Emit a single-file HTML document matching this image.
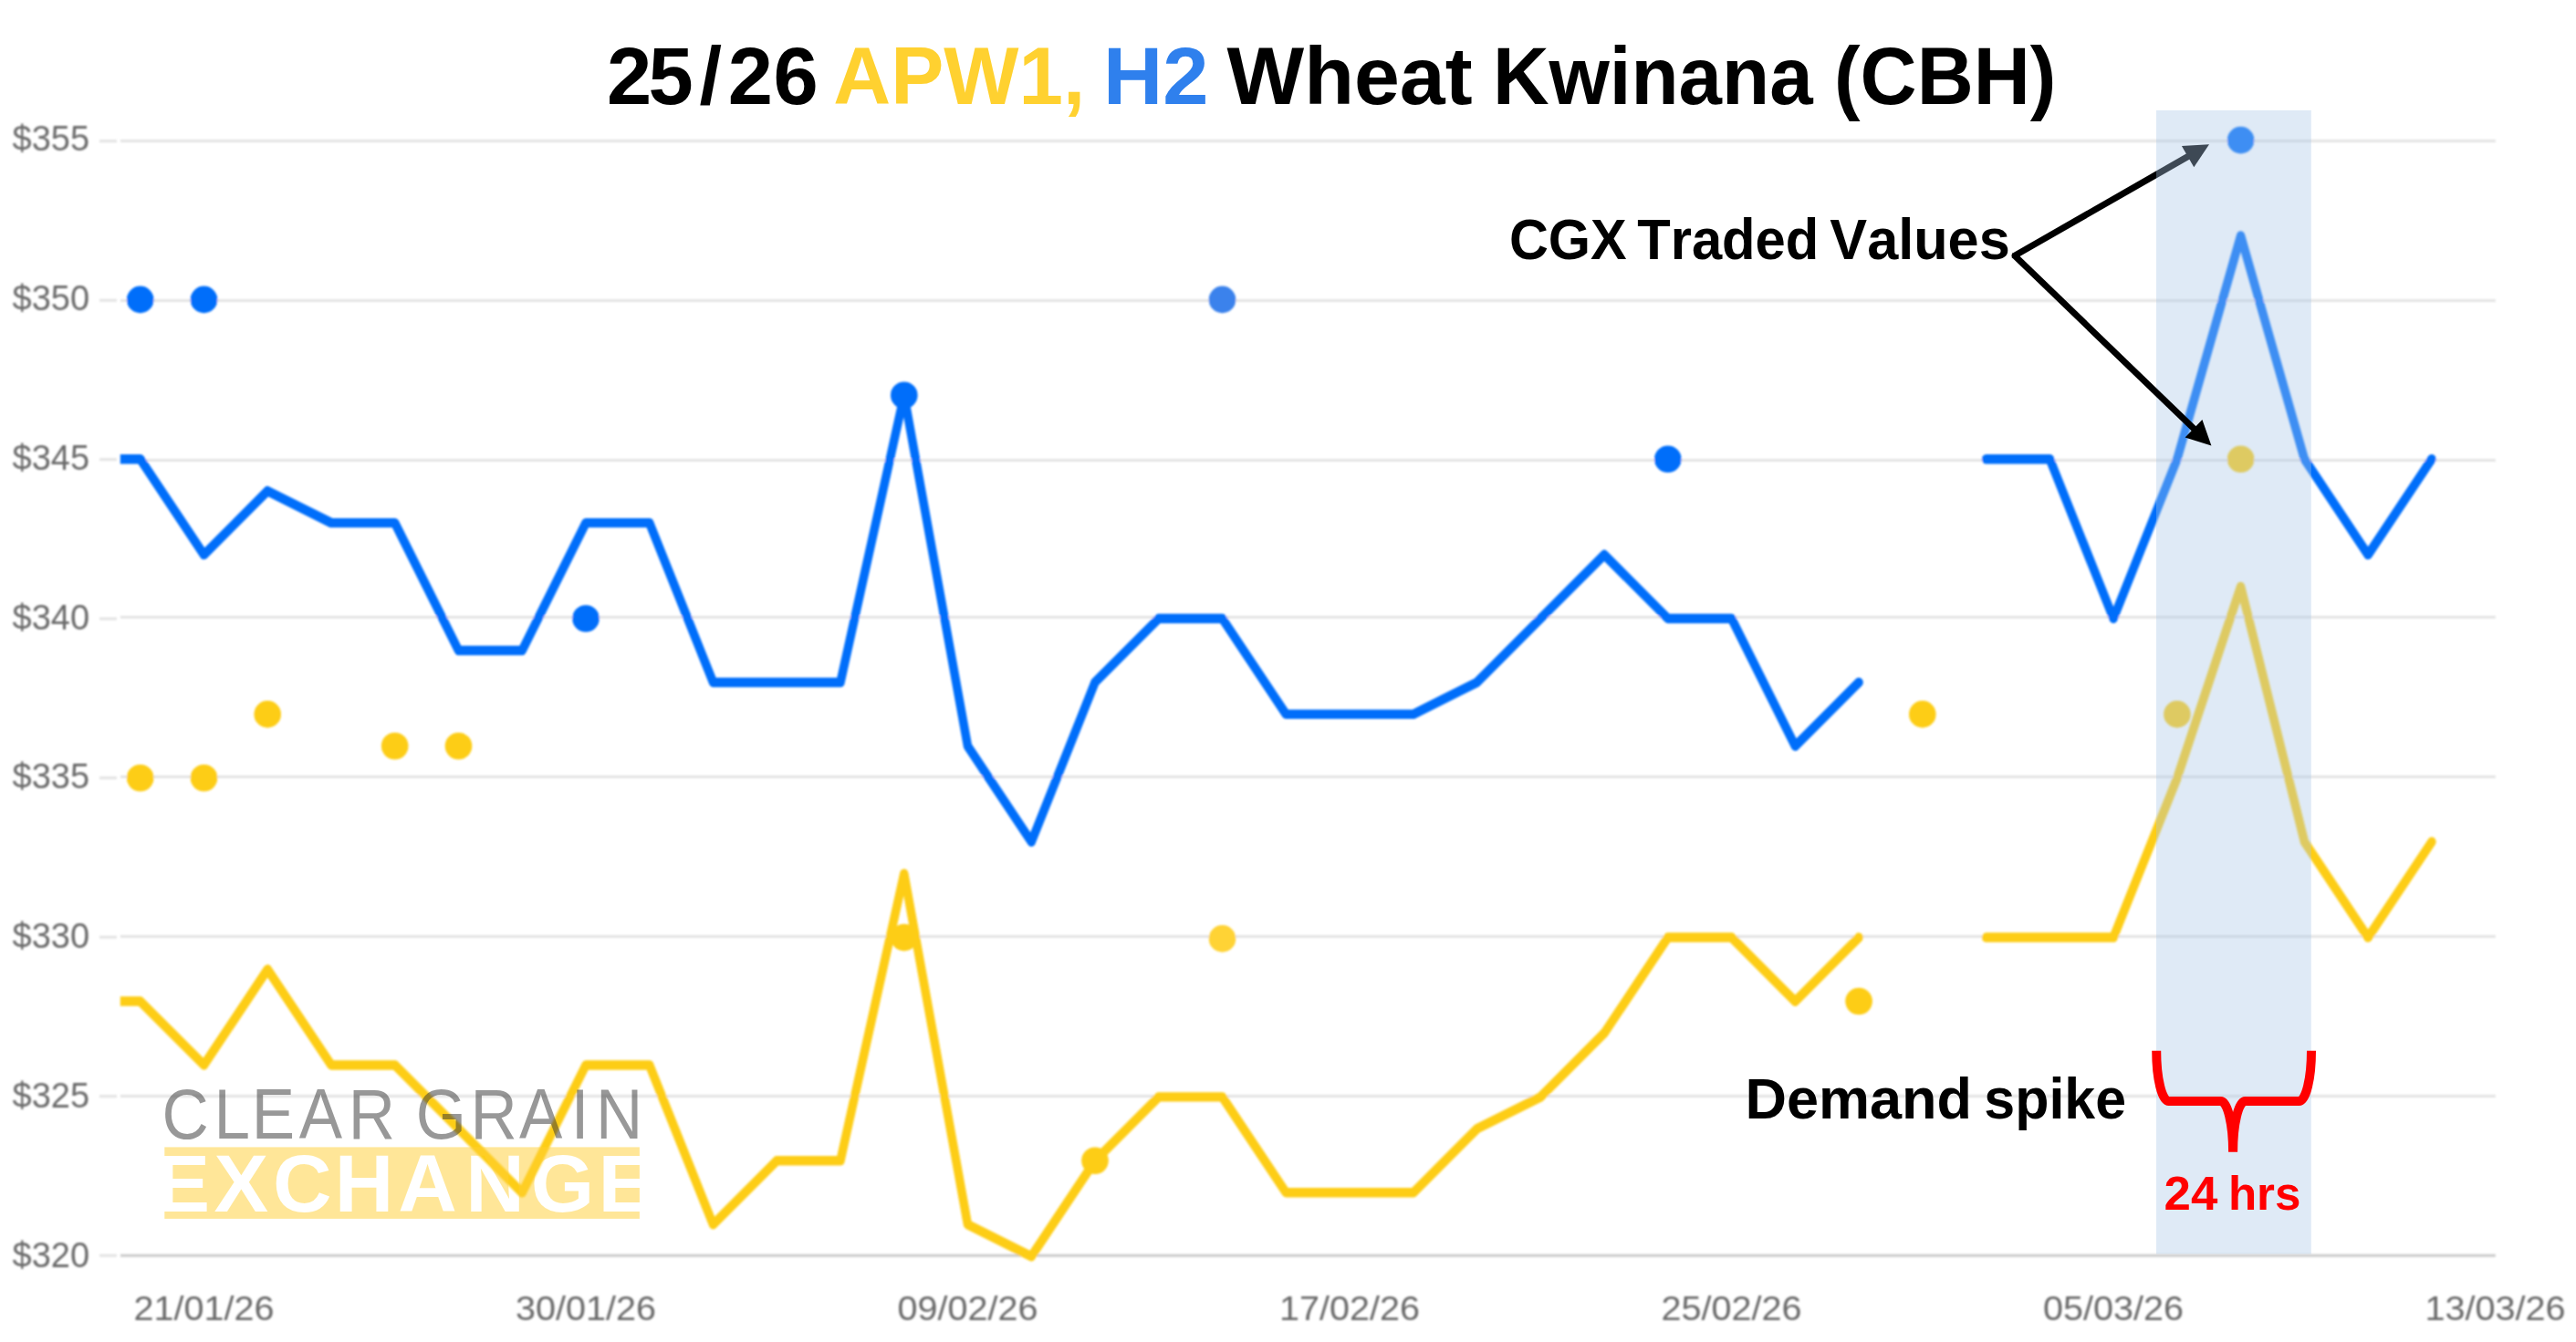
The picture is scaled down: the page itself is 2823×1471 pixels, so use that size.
<!DOCTYPE html>
<html lang="en"><head><meta charset="utf-8"><title>25/26 APW1, H2 Wheat Kwinana (CBH)</title>
<style>html,body{margin:0;padding:0;background:#fff;overflow:hidden}svg{display:block}text{font-family:"Liberation Sans",Arial,Helvetica,sans-serif;font-kerning:none}.ax{font-size:38.7px;fill:#6a6a6a}.xl{font-size:37.8px}.b{font-weight:700}</style></head><body>
<svg width="2823" height="1471" viewBox="0 0 2823 1471">
<rect width="2823" height="1471" fill="#fff"/>
<defs><filter id="soft" x="-2%" y="-2%" width="104%" height="104%"><feGaussianBlur stdDeviation="0.9"/></filter><clipPath id="plot"><rect x="131.8" y="0" width="2700" height="1471"/></clipPath>
<mask id="ko" maskUnits="userSpaceOnUse" x="170" y="1250" width="540" height="95"><rect x="170" y="1250" width="540" height="95" fill="#fff"/><text class="b" x="170.4 234.4 298.9 366.7 436.3 510.2 581.8 655.4" y="1327.6" font-size="89.4" fill="#000">EXCHANGE</text></mask></defs>
<g filter="url(#soft)">
<g stroke="#e3e3e3" stroke-width="3">
<line x1="109" y1="154.7" x2="128" y2="154.7"/>
<line x1="132" y1="154.6" x2="2734.8" y2="154.6"/>
<line x1="109" y1="329.2" x2="128" y2="329.2"/>
<line x1="132" y1="329.5" x2="2734.8" y2="329.5"/>
<line x1="109" y1="503.7" x2="128" y2="503.7"/>
<line x1="132" y1="504.4" x2="2734.8" y2="504.4"/>
<line x1="109" y1="678.2" x2="128" y2="678.2"/>
<line x1="132" y1="676.5" x2="2734.8" y2="676.5"/>
<line x1="109" y1="852.7" x2="128" y2="852.7"/>
<line x1="132" y1="851.5" x2="2734.8" y2="851.5"/>
<line x1="109" y1="1027.2" x2="128" y2="1027.2"/>
<line x1="132" y1="1026.5" x2="2734.8" y2="1026.5"/>
<line x1="109" y1="1201.7" x2="128" y2="1201.7"/>
<line x1="132" y1="1201.5" x2="2734.8" y2="1201.5"/>
<line x1="109" y1="1376.2" x2="128" y2="1376.2"/>
<line x1="132" y1="1376.3" x2="2734.8" y2="1376.3" stroke="#cbcbcb"/>
</g>
<g class="ax">
<text x="13.6" y="165.0" textLength="84.5" lengthAdjust="spacingAndGlyphs">$355</text>
<text x="13.6" y="339.8" textLength="84.5" lengthAdjust="spacingAndGlyphs">$350</text>
<text x="13.6" y="514.7" textLength="84.5" lengthAdjust="spacingAndGlyphs">$345</text>
<text x="13.6" y="689.5" textLength="84.5" lengthAdjust="spacingAndGlyphs">$340</text>
<text x="13.6" y="864.4" textLength="84.5" lengthAdjust="spacingAndGlyphs">$335</text>
<text x="13.6" y="1039.2" textLength="84.5" lengthAdjust="spacingAndGlyphs">$330</text>
<text x="13.6" y="1214.0" textLength="84.5" lengthAdjust="spacingAndGlyphs">$325</text>
<text x="13.6" y="1388.9" textLength="84.5" lengthAdjust="spacingAndGlyphs">$320</text>
</g>
<g class="ax xl" text-anchor="middle">
<text x="223.5" y="1447.2" textLength="154.1" lengthAdjust="spacingAndGlyphs">21/01/26</text>
<text x="642.0" y="1447.2" textLength="154.1" lengthAdjust="spacingAndGlyphs">30/01/26</text>
<text x="1060.5" y="1447.2" textLength="154.1" lengthAdjust="spacingAndGlyphs">09/02/26</text>
<text x="1479.0" y="1447.2" textLength="154.1" lengthAdjust="spacingAndGlyphs">17/02/26</text>
<text x="1897.6" y="1447.2" textLength="154.1" lengthAdjust="spacingAndGlyphs">25/02/26</text>
<text x="2316.1" y="1447.2" textLength="154.1" lengthAdjust="spacingAndGlyphs">05/03/26</text>
<text x="2734.6" y="1447.2" textLength="154.1" lengthAdjust="spacingAndGlyphs">13/03/26</text>
</g>
<g clip-path="url(#plot)"><g transform="scale(1,1.1)" fill="none" stroke-width="9.5" stroke-linejoin="round" stroke-linecap="round">
<polyline stroke="#fdcd15" points="83.9,997.75 153.7,997.75 223.5,1061.31 293.2,965.96 363.0,1061.31 432.7,1061.31 502.5,1124.87 572.2,1188.44 642.0,1061.31 711.7,1061.31 781.5,1220.22 851.2,1156.65 921.0,1156.65 990.8,870.62 1060.5,1220.22 1130.3,1252.00 1200.0,1156.65 1269.8,1093.09 1339.5,1093.09 1409.3,1188.44 1479.0,1188.44 1548.8,1188.44 1618.6,1124.87 1688.3,1093.09 1758.1,1029.53 1827.8,934.18 1897.6,934.18 1967.3,997.75 2037.1,934.18"/>
<polyline stroke="#fdcd15" stroke-linecap="round" points="2176.6,934.18 2246.3,934.18 2316.1,934.18 2385.9,775.27 2455.6,584.58 2525.4,838.84 2595.1,934.18 2664.9,838.84"/>
<polyline stroke="#036efa" points="83.9,457.45 153.7,457.45 223.5,552.80 293.2,489.24 363.0,521.02 432.7,521.02 502.5,648.15 572.2,648.15 642.0,521.02 711.7,521.02 781.5,679.93 851.2,679.93 921.0,679.93 990.8,393.89 1060.5,743.49 1130.3,838.84 1200.0,679.93 1269.8,616.36 1339.5,616.36 1409.3,711.71 1479.0,711.71 1548.8,711.71 1618.6,679.93 1688.3,616.36 1758.1,552.80 1827.8,616.36 1897.6,616.36 1967.3,743.49 2037.1,679.93"/>
<polyline stroke="#036efa" stroke-linecap="round" points="2176.6,457.45 2246.3,457.45 2316.1,616.36 2385.9,457.45 2455.6,234.98 2525.4,457.45 2595.1,552.80 2664.9,457.45"/>
</g></g>
<g>
<circle cx="153.7" cy="852.8" r="14.8" fill="#fdcd15"/>
<circle cx="223.5" cy="852.8" r="14.8" fill="#fdcd15"/>
<circle cx="293.2" cy="782.9" r="14.8" fill="#fdcd15"/>
<circle cx="432.7" cy="817.8" r="14.8" fill="#fdcd15"/>
<circle cx="502.5" cy="817.8" r="14.8" fill="#fdcd15"/>
<circle cx="990.8" cy="1027.6" r="14.8" fill="#fdcd15"/>
<circle cx="1200.0" cy="1272.3" r="14.8" fill="#fdcd15"/>
<circle cx="1339.5" cy="1028.9" r="14.8" fill="#ffd336"/>
<circle cx="2037.1" cy="1097.5" r="14.8" fill="#fdcd15"/>
<circle cx="2106.8" cy="782.9" r="14.8" fill="#fdcd15"/>
<circle cx="2385.9" cy="782.9" r="14.8" fill="#fdcd15"/>
<circle cx="2455.6" cy="503.2" r="14.8" fill="#fdcd15"/>
<circle cx="153.7" cy="328.4" r="14.8" fill="#036efa"/>
<circle cx="223.5" cy="328.4" r="14.8" fill="#036efa"/>
<circle cx="642.0" cy="678.0" r="14.8" fill="#036efa"/>
<circle cx="990.8" cy="433.3" r="14.8" fill="#036efa"/>
<circle cx="1339.5" cy="328.4" r="14.8" fill="#3b82ec"/>
<circle cx="1827.8" cy="503.2" r="14.8" fill="#036efa"/>
<circle cx="2455.6" cy="153.6" r="14.8" fill="#036efa"/>
</g>
</g>
<g opacity="0.5">
<text x="192.9 254.9 299.7 356.3 414.9 480.6 495.4 560.4 618.4 680.3 709.9" y="1247.7" font-size="77.2" fill="#333" transform="scale(0.92,1)">CLEAR GRAIN</text>
<rect x="180.3" y="1257.4" width="520.6" height="78.5" fill="#ffcf33" mask="url(#ko)"/>
</g>
<text class="b" x="665.0 710.4 766.4 797.8 847.5" y="113.8" font-size="88.5" fill="#000">25/26</text>
<text class="b" x="913.3" y="113.8" font-size="88.5" textLength="276.0" lengthAdjust="spacingAndGlyphs" fill="#ffd130">APW1,</text>
<text class="b" x="1209.0" y="113.8" font-size="88.5" textLength="115.5" lengthAdjust="spacingAndGlyphs" fill="#2f80ed">H2</text>
<text class="b" x="1344.5" y="113.8" font-size="88.5" textLength="269.1" lengthAdjust="spacingAndGlyphs" fill="#000">Wheat</text>
<text class="b" x="1635.9" y="113.8" font-size="88.5" textLength="350.7" lengthAdjust="spacingAndGlyphs" fill="#000">Kwinana</text>
<text class="b" x="2010.0" y="113.8" font-size="88.5" textLength="243.4" lengthAdjust="spacingAndGlyphs" fill="#000">(CBH)</text>
<text class="b" x="1653.9" y="284.1" font-size="62.6" textLength="128.8" lengthAdjust="spacingAndGlyphs" fill="#000">CGX</text>
<text class="b" x="1794.2" y="284.1" font-size="62.6" textLength="199.1" lengthAdjust="spacingAndGlyphs" fill="#000">Traded</text>
<text class="b" x="2005.3" y="284.1" font-size="62.6" textLength="197.4" lengthAdjust="spacingAndGlyphs" fill="#000">Values</text>
<polygon points="2205.8,276.8 2204.4,279.7 2205,283.2 2209,280.3" fill="#000"/>
<line x1="2207.8" y1="280.3" x2="2399.3" y2="170.6" stroke="#000" stroke-width="7"/><polygon points="2421.0,158.2 2404.3,183.3 2390.9,159.9" fill="#000"/>
<rect x="2363" y="120.9" width="169.8" height="1253.6" fill="#a8c6e6" fill-opacity="0.37"/>
<line x1="2207.8" y1="280.3" x2="2405.4" y2="471.1" stroke="#000" stroke-width="7"/><polygon points="2423.4,488.5 2394.6,479.5 2413.4,460.0" fill="#000"/>
<path d="M2363.2,1151.7 A13.5,55.3 0 0 0 2376.7,1207 L2433.6,1207 A13.5,55.8 0 0 1 2447.1,1262.8 A13.5,55.8 0 0 1 2460.6,1207 L2519.5,1207 A13.5,55.3 0 0 0 2533,1151.7" fill="none" stroke="#ff0000" stroke-width="10"/>
<text class="b" x="2371.5" y="1325.7" font-size="51.4" textLength="58.8" lengthAdjust="spacingAndGlyphs" fill="#ff0000">24</text>
<text class="b" x="2441.9" y="1325.7" font-size="51.4" textLength="79.5" lengthAdjust="spacingAndGlyphs" fill="#ff0000">hrs</text>
<text class="b" x="1912.4" y="1226.0" font-size="62.2" textLength="248.6" lengthAdjust="spacingAndGlyphs" fill="#000">Demand</text>
<text class="b" x="2174.3" y="1226.0" font-size="62.2" textLength="155.8" lengthAdjust="spacingAndGlyphs" fill="#000">spike</text>
</svg></body></html>
